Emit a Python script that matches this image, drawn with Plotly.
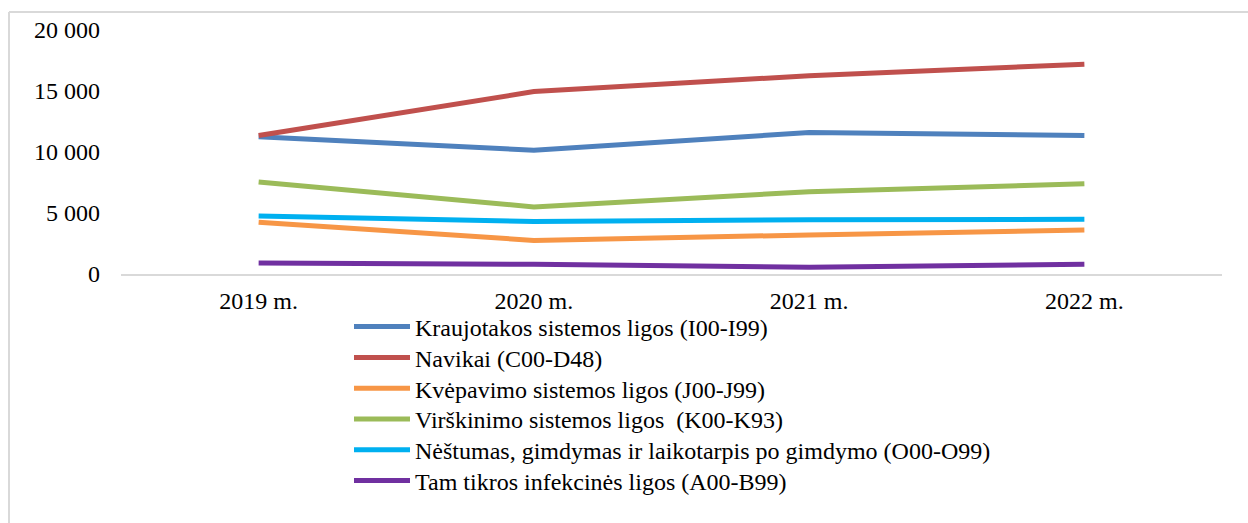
import plotly.graph_objects as go

years = ["2019 m.", "2020 m.", "2021 m.", "2022 m."]

names = [
    "Kraujotakos sistemos ligos (I00-I99)",
    "Navikai (C00-D48)",
    "Kvėpavimo sistemos ligos (J00-J99)",
    "Virškinimo sistemos ligos  (K00-K93)",
    "Nėštumas, gimdymas ir laikotarpis po gimdymo (O00-O99)",
    "Tam tikros infekcinės ligos (A00-B99)",
]

kraujotakos = [11250, 10150, 11600, 11350]
navikai = [11350, 14950, 16250, 17200]
kvepavimo = [4250, 2750, 3200, 3600]
virskinimo = [7550, 5500, 6750, 7400]
nestumas = [4750, 4300, 4450, 4480]
infekcines = [900, 800, 550, 800]

series = [kraujotakos, navikai, kvepavimo, virskinimo, nestumas, infekcines]
colors = ["#4f81bd", "#c0504d", "#f79646", "#9bbb59", "#00b0f0", "#7030a0"]

FONT = "Liberation Serif"
FS = 24

# frame geometry (pixels)
L, R, T, B = 121, 26, 30, 249
Wp = 1248 - L - R
Hp = 523 - T - B

def px(xpix):
    return (xpix - L) / Wp

def py(ypix):
    return (T + Hp - ypix) / Hp

fig = go.Figure()
legend_layouts = {}
ROW0, PITCH = 327, 30.8
for i, (name, vals, col) in enumerate(zip(names, series, colors)):
    lname = "legend" if i == 0 else f"legend{i + 1}"
    fig.add_trace(go.Scatter(
        x=years, y=vals, name=name, mode="lines",
        line=dict(color=col, width=5), legend=lname,
    ))
    legend_layouts[lname] = dict(
        x=px(349), y=py(ROW0 + i * PITCH), xanchor="left", yanchor="middle",
        orientation="v", itemwidth=56,
        font=dict(family=FONT, size=FS, color="black"),
        bgcolor="rgba(0,0,0,0)",
    )

fig.update_layout(
    width=1248, height=523,
    margin=dict(l=L, r=R, t=T, b=B),
    paper_bgcolor="white", plot_bgcolor="white",
    font=dict(family=FONT, size=FS, color="black"),
    showlegend=True,
    xaxis=dict(
        type="category", range=[-0.5, 3.5],
        showline=True, linecolor="#d9d9d9", linewidth=2,
        showgrid=False, ticks="", zeroline=False,
        ticklabelstandoff=4,
    ),
    yaxis=dict(
        range=[0, 20000], tickvals=[0, 5000, 10000, 15000, 20000],
        ticktext=["0", "5 000", "10 000", "15 000", "20 000"],
        showline=False, showgrid=False, zeroline=False, ticks="",
        ticklabelstandoff=20,
    ),
    shapes=[
        dict(type="line", xref="paper", yref="paper",
             x0=px(9), x1=px(1248), y0=py(12), y1=py(12),
             line=dict(color="#d9d9d9", width=2)),
        dict(type="line", xref="paper", yref="paper",
             x0=px(9), x1=px(9), y0=py(12), y1=py(523),
             line=dict(color="#d9d9d9", width=2)),
    ],
    **legend_layouts,
)

fig.write_html(
    "out.html",
    config={"displayModeBar": False},
    post_script="document.body.style.margin='0';document.body.style.overflow='hidden';",
)
